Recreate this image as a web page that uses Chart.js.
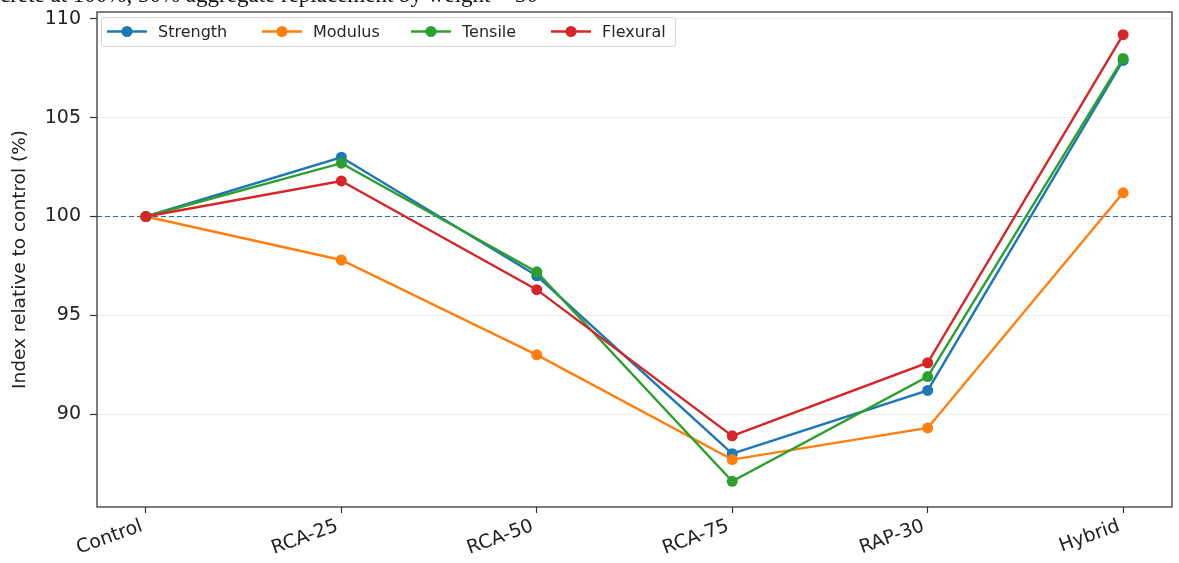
<!DOCTYPE html>
<html>
<head>
<meta charset="utf-8">
<script src="https://cdn.jsdelivr.net/npm/chart.js@4.4.1/dist/chart.umd.min.js"></script>
<style>
  html, body { margin: 0; padding: 0; background: #ffffff; }
  #wrap { width: 1179px; height: 563px; position: relative; }
</style>
</head>
<body>
<div id="wrap"><canvas id="chart" width="1179" height="563"></canvas></div>
<script>
// Mix designs along the x axis
const categories = ['Control', 'RCA-25', 'RCA-50', 'RCA-75', 'RAP-30', 'Hybrid'];

// Property indices relative to the control mix (%)
const strength = [100, 103.0, 97.0, 88.0, 91.2, 107.9];
const modulus  = [100, 97.8, 93.0, 87.7, 89.3, 101.2];
const tensile  = [100, 102.7, 97.2, 86.6, 91.9, 108.0];
const flexural = [100, 101.8, 96.3, 88.9, 92.6, 109.2];

// Reference level for the control mix
const controlLevel = 100;

// Y axis tick values
const yTicks = [90, 95, 100, 105, 110];

const seriesNames = ['Strength', 'Modulus', 'Tensile', 'Flexural'];
const seriesColors = ['#1f77b4', '#ff7f0e', '#2ca02c', '#d62728'];
const seriesValues = [strength, modulus, tensile, flexural];

const toPoints = vals => vals.map((v, i) => ({ x: i, y: v }));

const datasets = seriesValues.map((vals, k) => ({
  label: seriesNames[k],
  data: toPoints(vals),
  borderColor: seriesColors[k],
  backgroundColor: seriesColors[k],
  borderWidth: 2.4,
  pointRadius: 5.5,
  pointHoverRadius: 5.5,
  pointBorderWidth: 0,
  tension: 0,
  order: seriesNames.length - k
}));

datasets.push({
  label: 'control',
  data: [{ x: -0.25, y: controlLevel }, { x: categories.length - 0.75, y: controlLevel }],
  borderColor: '#2a6ea6',
  borderWidth: 1.2,
  borderDash: [5, 3],
  pointRadius: 0,
  order: 10
});

const FONT = "'DejaVu Sans', sans-serif";

// Caption line along the top edge
const captionPlugin = {
  id: 'caption',
  beforeDraw(chart) {
    const ctx = chart.ctx;
    ctx.save();
    ctx.fillStyle = '#ffffff';
    ctx.fillRect(0, 0, chart.width, chart.height);
    ctx.fillStyle = '#111111';
    ctx.font = "23px 'Liberation Serif', serif";
    ctx.textBaseline = 'alphabetic';
    ctx.textAlign = 'left';
    ctx.fillText('crete at 100%, 30% aggregate replacement by weight = 30', 0, 2);
    ctx.restore();
  }
};

// Box around the plotting area
const framePlugin = {
  id: 'frame',
  afterDatasetsDraw(chart) {
    const { ctx, chartArea: a } = chart;
    ctx.save();
    ctx.strokeStyle = '#3a3a3a';
    ctx.lineWidth = 1.3;
    ctx.strokeRect(a.left, a.top, a.right - a.left, a.bottom - a.top);
    ctx.restore();
  }
};

// Legend in the upper-left corner, line-and-marker handles
const legendPlugin = {
  id: 'boxLegend',
  afterDraw(chart) {
    const ctx = chart.ctx;
    const x0 = 101, y0 = 17, w = 574, h = 29;
    ctx.save();
    ctx.fillStyle = 'rgba(255,255,255,0.85)';
    ctx.strokeStyle = '#d6d6d6';
    ctx.lineWidth = 1;
    ctx.beginPath();
    ctx.roundRect(x0 + 0.5, y0 + 0.5, w, h, 3);
    ctx.fill();
    ctx.stroke();
    const handleX = [107, 262, 411, 551];
    const cy = y0 + h / 2;
    ctx.font = '16px ' + FONT;
    ctx.textBaseline = 'middle';
    ctx.textAlign = 'left';
    seriesNames.forEach((name, k) => {
      const hx = handleX[k];
      ctx.strokeStyle = seriesColors[k];
      ctx.lineWidth = 2.4;
      ctx.beginPath();
      ctx.moveTo(hx, cy);
      ctx.lineTo(hx + 40, cy);
      ctx.stroke();
      ctx.fillStyle = seriesColors[k];
      ctx.beginPath();
      ctx.arc(hx + 20, cy, 5.5, 0, Math.PI * 2);
      ctx.fill();
      ctx.fillStyle = '#262626';
      ctx.fillText(name, hx + 51, cy + 1);
    });
    ctx.restore();
  }
};

new Chart(document.getElementById('chart'), {
  type: 'line',
  data: { datasets },
  plugins: [captionPlugin, framePlugin, legendPlugin],
  options: {
    responsive: false,
    animation: false,
    events: [],
    layout: { padding: { top: 12, right: 7, left: 0, bottom: 0 } },
    plugins: {
      legend: { display: false },
      tooltip: { enabled: false }
    },
    scales: {
      x: {
        type: 'linear',
        min: -0.25,
        max: categories.length - 0.75,
        afterBuildTicks(scale) {
          scale.ticks = categories.map((_, i) => ({ value: i }));
        },
        afterFit(scale) {
          scale.height = 56;
          scale.paddingLeft = 0;
          scale.paddingRight = 0;
        },
        ticks: {
          callback: v => categories[v],
          minRotation: 20,
          maxRotation: 20,
          labelOffset: -4,
          padding: 2,
          color: '#222222',
          font: { family: FONT, size: 19 }
        },
        grid: {
          drawOnChartArea: false,
          drawTicks: true,
          tickLength: 6,
          tickColor: '#333333',
          tickWidth: 1.2
        },
        border: { display: false }
      },
      y: {
        type: 'linear',
        min: 85.3,
        max: 110.35,
        afterBuildTicks(scale) {
          scale.ticks = yTicks.map(v => ({ value: v }));
        },
        afterFit(scale) {
          scale.width = 97;
          scale.paddingTop = 0;
          scale.paddingBottom = 0;
        },
        ticks: {
          color: '#222222',
          padding: 9,
          font: { family: FONT, size: 19 }
        },
        grid: {
          color: 'rgba(0,0,0,0.07)',
          lineWidth: 1,
          tickLength: 7,
          tickColor: '#333333',
          tickWidth: 1.2
        },
        border: { display: false },
        title: {
          display: true,
          text: 'Index relative to control (%)',
          color: '#222222',
          padding: { top: 9, bottom: 0 },
          font: { family: FONT, size: 18.5 }
        }
      }
    }
  }
});
</script>
</body>
</html>
